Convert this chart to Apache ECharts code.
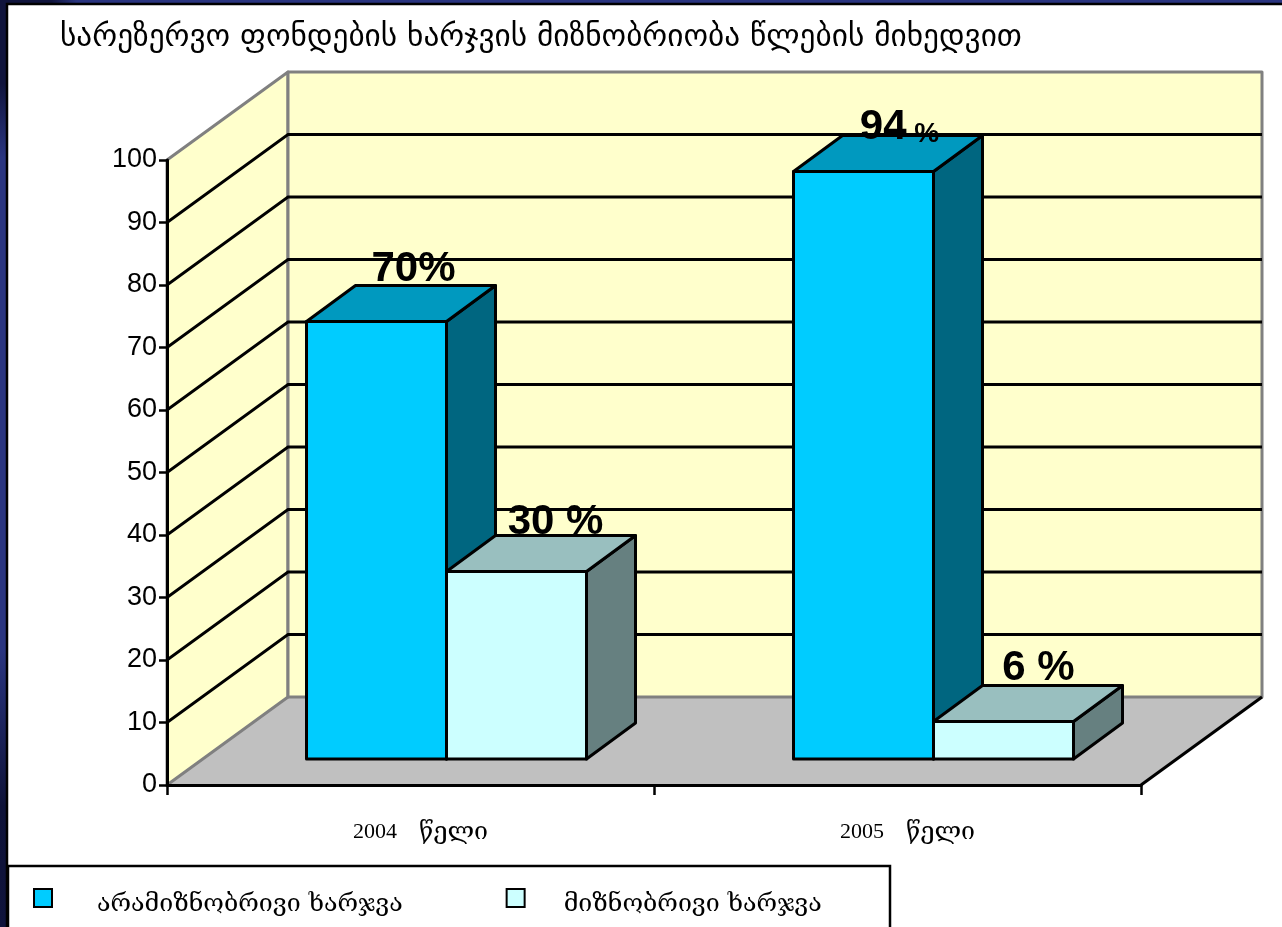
<!DOCTYPE html>
<html>
<head>
<meta charset="utf-8">
<title>chart</title>
<script src="https://cdn.jsdelivr.net/npm/echarts@6/dist/echarts.min.js"></script>
<style>
html, body { margin: 0; padding: 0; background: #101646; }
#main { width: 1282px; height: 927px; }
</style>
</head>
<body>
<div id="main"></div>
<script>
var titleText = 'სარეზერვო ფონდების ხარჯვის მიზნობრიობა წლების მიხედვით';
var categories = ['2004', '2005'];
var categorySuffix = 'წელი';
var yTicks = [10, 20, 30, 40, 50, 60, 70, 80, 90];
var nameA = 'არამიზნობრივი ხარჯვა';
var nameB = 'მიზნობრივი ხარჯვა';
var valuesA = [70, 94];
var valuesB = [30, 6];
var labelsA = ['70%', '94{s| %}'];
var labelsB = ['30 %', '6 %'];

// depth of the fake 3d box, in pixels
var wallDx = 121, wallDy = 88;
var barDx = 49, barDy = 36;
var barInsetDx = 36, barInsetDy = 26;
var barWidth = 140;
var labelRich = { s: { fontFamily: 'Liberation Sans', fontWeight: 'bold', fontSize: 28, fill: '#000', verticalAlign: 'bottom' } };

var chart = echarts.init(document.getElementById('main'));

function poly(points, fill, stroke, width) {
  return {
    type: 'polygon',
    shape: { points: points },
    style: { fill: fill, stroke: stroke, lineWidth: width, lineJoin: 'round' }
  };
}

function plotBox(api) {
  var band = api.size([1, 0])[0];
  var left = api.coord([0, 0])[0] - band / 2;
  var right = api.coord([1, 0])[0] + band / 2;
  return { left: left, right: right, y0: api.coord([0, 0])[1], y100: api.coord([0, 100])[1] };
}

// back wall, left wall and floor
function renderWalls(params, api) {
  var b = plotBox(api);
  var backL = b.left + wallDx, backR = b.right + wallDx;
  return {
    type: 'group',
    children: [
      poly([[b.left, b.y0], [backL, b.y0 - wallDy], [backR, b.y0 - wallDy], [b.right, b.y0]], '#c0c0c0', 'none', 0),
      poly([[b.left, b.y100], [backL, b.y100 - wallDy], [backL, b.y0 - wallDy], [b.left, b.y0]], '#ffffcc', '#808080', 3),
      poly([[backL, b.y100 - wallDy], [backR, b.y100 - wallDy], [backR, b.y0 - wallDy], [backL, b.y0 - wallDy]], '#ffffcc', '#808080', 3),
      { type: 'line', shape: { x1: b.right, y1: b.y0, x2: backR, y2: b.y0 - wallDy }, style: { stroke: '#000', lineWidth: 3 } }
    ]
  };
}

function renderGridLine(params, api) {
  var b = plotBox(api);
  var y = api.coord([0, api.value(1)])[1];
  return {
    type: 'polyline',
    shape: { points: [[b.left, y], [b.left + wallDx, y - wallDy], [b.right + wallDx, y - wallDy]] },
    style: { fill: 'none', stroke: '#000', lineWidth: 2.8 }
  };
}

function barRenderer(colors, shift, labels, labelOffsets) {
  return function (params, api) {
    var i = params.dataIndex;
    var p = api.coord([api.value(0), api.value(1)]);
    var base = api.coord([api.value(0), 0]);
    var x0 = p[0] + barInsetDx + shift;
    var x1 = x0 + barWidth;
    var top = p[1] - barInsetDy;
    var bot = base[1] - barInsetDy;
    return {
      type: 'group',
      children: [
        poly([[x1, top], [x1 + barDx, top - barDy], [x1 + barDx, bot - barDy], [x1, bot]], colors.side, '#000', 3),
        poly([[x0, top], [x0 + barDx, top - barDy], [x1 + barDx, top - barDy], [x1, top]], colors.top, '#000', 3),
        poly([[x0, top], [x1, top], [x1, bot], [x0, bot]], colors.front, '#000', 3),
        {
          type: 'text',
          z2: 10,
          style: {
            x: (x0 + x1) / 2 + labelOffsets[i][0],
            y: top + labelOffsets[i][1],
            text: labels[i],
            fontFamily: 'Liberation Sans',
            fontWeight: 'bold',
            fontSize: 42,
            fill: '#000',
            align: 'center',
            verticalAlign: 'middle',
            rich: labelRich
          }
        }
      ]
    };
  };
}

var option = {
  animation: false,
  backgroundColor: '#101646',
  title: {
    text: titleText,
    left: 55,
    top: 17,
    textStyle: { fontFamily: 'DejaVu Sans', fontWeight: 'normal', fontSize: 31.3, color: '#000' }
  },
  legend: {
    left: 28,
    top: 883,
    icon: 'rect',
    itemWidth: 18,
    itemHeight: 18,
    itemGap: 103,
    data: [
      { name: nameA, textStyle: { padding: [0, 0, 0, 40] } },
      { name: nameB, textStyle: { padding: [0, 0, 0, 34] } }
    ],
    selectedMode: false,
    formatter: '{t|{name}}',
    textStyle: {
      fontFamily: 'DejaVu Serif',
      fontSize: 25,
      color: '#000',
      rich: { t: { fontFamily: 'DejaVu Serif', fontSize: 25, color: '#000', padding: [12, 0, 0, 0] } }
    }
  },
  graphic: [
    {
      type: 'rect',
      z: -2,
      shape: { x: 0, y: 0, width: 7, height: 927 },
      style: {
        fill: new echarts.graphic.LinearGradient(0, 0, 0, 1, [
          { offset: 0, color: '#10143c' },
          { offset: 0.09, color: '#10143c' },
          { offset: 0.17, color: '#2a3580' },
          { offset: 0.7, color: '#2a3580' },
          { offset: 0.87, color: '#0e1238' },
          { offset: 1, color: '#10143c' }
        ])
      }
    },
    {
      type: 'rect',
      z: -2,
      shape: { x: 0, y: 0, width: 1282, height: 3 },
      style: {
        fill: new echarts.graphic.LinearGradient(0, 0, 1, 0, [
          { offset: 0, color: '#10143c' },
          { offset: 0.04, color: '#10143c' },
          { offset: 0.06, color: '#2a3580' },
          { offset: 1, color: '#2a3580' }
        ])
      }
    },
    { type: 'rect', z: -1, shape: { x: 7, y: 4, width: 1290, height: 940 }, style: { fill: '#fff', stroke: '#000', lineWidth: 2.5 } },
    { type: 'rect', z: -1, shape: { x: 8, y: 866, width: 882, height: 80 }, style: { fill: '#fff', stroke: '#000', lineWidth: 2.5 } }
  ],
  grid: { left: 167, right: 141, top: 160, bottom: 142 },
  xAxis: {
    type: 'category',
    data: categories,
    axisLine: { lineStyle: { color: '#000', width: 3 } },
    axisTick: { show: true, interval: 0, alignWithLabel: false, length: 10, lineStyle: { color: '#000', width: 2.5 } },
    axisLabel: {
      margin: 35,
      color: '#000',
      padding: [0, 0, 0, 20],
      formatter: function (v) { return '{y|' + v + '}{w|' + categorySuffix + '}'; },
      rich: {
        y: { fontFamily: 'Liberation Serif', fontSize: 22, color: '#000', padding: [0, 22, 0, 0] },
        w: { fontFamily: 'DejaVu Serif', fontSize: 25, color: '#000' }
      }
    },
    z: 5
  },
  yAxis: {
    type: 'value',
    min: 0,
    max: 100,
    interval: 10,
    splitLine: { show: false },
    axisLine: { show: true, lineStyle: { color: '#000', width: 3 } },
    axisTick: { show: true, length: 8, lineStyle: { color: '#000', width: 2.5 } },
    axisLabel: { margin: 10, fontFamily: 'Liberation Sans', fontSize: 27, color: '#000' },
    z: 5
  },
  series: [
    { type: 'custom', name: 'walls', silent: true, z: 1, renderItem: renderWalls, data: [[0, 0]], encode: { x: 0, y: 1 } },
    { type: 'custom', name: 'grid lines', silent: true, z: 2, renderItem: renderGridLine, data: yTicks.map(function (t) { return [0, t]; }), encode: { x: 0, y: 1 } },
    {
      type: 'custom',
      name: nameA,
      silent: true,
      z: 3,
      itemStyle: { color: '#00ccff', borderColor: '#000', borderWidth: 2.5 },
      renderItem: barRenderer({ front: '#00ccff', top: '#0099bf', side: '#006680' }, -barWidth, labelsA, [[37, -52], [36, -44]]),
      data: valuesA.map(function (v, i) { return [i, v]; }),
      encode: { x: 0, y: 1 }
    },
    {
      type: 'custom',
      name: nameB,
      silent: true,
      z: 4,
      itemStyle: { color: '#ccffff', borderColor: '#000', borderWidth: 2.5 },
      renderItem: barRenderer({ front: '#ccffff', top: '#99bfbf', side: '#668080' }, 0, labelsB, [[39, -49], [35, -53]]),
      data: valuesB.map(function (v, i) { return [i, v]; }),
      encode: { x: 0, y: 1 }
    }
  ]
};

chart.setOption(option);
</script>
</body>
</html>
